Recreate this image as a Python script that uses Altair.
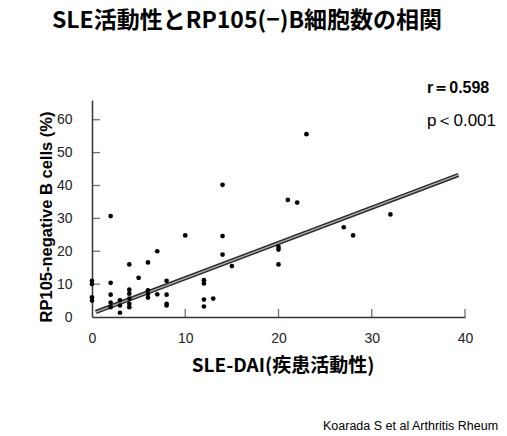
import altair as alt
import pandas as pd

# ---- data ----
sle_dai = [0, 0, 0, 0,
           2, 2, 2, 2, 2,
           3, 3, 3,
           4, 4, 4, 4, 4, 4,
           5,
           6, 6, 6, 6,
           7, 7,
           8, 8, 8, 8,
           10,
           12, 12, 12, 12,
           13,
           14, 14, 14,
           15,
           20, 20, 20,
           21, 22, 23,
           27, 28, 32]
rp105_neg = [11, 10, 6, 5,
             30.7, 10.4, 6.8, 4.4, 3,
             5.1, 3.5, 1.3,
             16, 8.3, 7.1, 5.6, 4, 3,
             11.9,
             16.6, 8.1, 7, 5.9,
             20, 6.9,
             11, 6.8, 4, 3.5,
             24.8,
             11.2, 10.2, 5.3, 3.2,
             5.6,
             40.2, 24.6, 19,
             15.5,
             21.3, 20.5, 16,
             35.6, 34.8, 55.6,
             27.3, 24.8, 31.2]

fit_x = [0.4, 39.3]
fit_y = [1.5, 43.2]

x_ticks = [0, 10, 20, 30, 40]
y_ticks = [0, 10, 20, 30, 40, 50, 60]
x_inner_ticks = [10, 20, 30, 40]
y_inner_ticks = [10, 20, 30, 40, 50, 60]

title_text = "SLE活動性とRP105(−)B細胞数の相関"
r_text = "r＝0.598"
p_text = "p＜0.001"
y_title = "RP105-negative B cells (%)"
x_title = "SLE-DAI(疾患活動性)"
source_text = "Koarada S et al  Arthritis Rheum"

# ---- chart ----
W, H = 373, 217
LEFT, TOP = 92, 100
FONT = "Liberation Sans"
JFONT = "Noto Sans CJK JP"

xs = alt.Scale(domain=[0, 40], nice=False)
ys = alt.Scale(domain=[0, 66], nice=False)

pts_df = pd.DataFrame({"x": sle_dai, "y": rp105_neg})
fit_df = pd.DataFrame({"x": fit_x, "y": fit_y})

x_axis = alt.Axis(values=x_ticks, grid=False, ticks=False, title=None,
                  labelFont=FONT, labelFontSize=14, labelColor="#222",
                  labelPadding=14, domainColor="#333", domainWidth=1.5,
                  labelFlush=False, labelOverlap=False)
y_axis = alt.Axis(values=y_ticks, grid=False, ticks=False, title=None,
                  labelFont=FONT, labelFontSize=14, labelColor="#222",
                  labelPadding=20, domainColor="#333", domainWidth=1.5,
                  labelOverlap=False, labelFlush=False)


def X():
    return alt.X("x:Q", scale=xs, axis=x_axis)


def Y():
    return alt.Y("y:Q", scale=ys, axis=y_axis)


points = alt.Chart(pts_df).mark_circle(size=22, color="black", opacity=1).encode(
    x=X(), y=Y())

fit_outer = alt.Chart(fit_df).mark_line(color="#2a2a2a", strokeWidth=4.2).encode(
    x=X(), y=Y())
fit_inner = alt.Chart(fit_df).mark_line(color="#b0b0b0", strokeWidth=1.4).encode(
    x=X(), y=Y())

xt_df = pd.DataFrame({"x": x_inner_ticks, "y": [0] * len(x_inner_ticks)})
yt_df = pd.DataFrame({"x": [0] * len(y_inner_ticks), "y": y_inner_ticks})
xtick = alt.Chart(xt_df).mark_tick(orient="vertical", size=8, thickness=1.3,
                                   color="#333", yOffset=-4).encode(
    x=X(), y=Y())
ytick = alt.Chart(yt_df).mark_tick(orient="horizontal", size=8, thickness=1.3,
                                   color="#333", xOffset=4).encode(
    x=X(), y=Y())


def label(text, x, y, size, weight="normal", font=JFONT, align="center",
          angle=0, baseline="middle"):
    kw = dict(fontSize=size, fontWeight=weight, font=font, align=align,
              baseline=baseline, color="black")
    if angle:
        kw["angle"] = angle
    return alt.Chart(pd.DataFrame({"t": [text]})).mark_text(**kw).encode(
        text="t:N", x=alt.value(x - LEFT), y=alt.value(y - TOP))


title = label(title_text, 247, 21, 23, weight="bold")
r_lbl = label(r_text, 427, 88, 16, weight="bold", font=FONT, align="left")
p_lbl = label(p_text, 427, 121, 17, font=FONT, align="left")
y_lbl = label(y_title, 47, 217, 16.5, weight="bold", font=FONT, angle=270)
x_lbl = label(x_title, 283, 366, 19, weight="bold")
src = label(source_text, 323, 426, 12.5, font=FONT, align="left")

chart = alt.layer(fit_outer, fit_inner, points, xtick, ytick,
                  title, r_lbl, p_lbl, y_lbl, x_lbl, src).properties(
    width=W, height=H,
    autosize=alt.AutoSizeParams(type="none"),
    padding={"left": LEFT, "top": TOP, "right": 507 - LEFT - W,
             "bottom": 436 - TOP - H},
    background="white",
).configure_view(stroke=None)

chart.save("out.html", embed_options={"renderer": "svg", "actions": False})
